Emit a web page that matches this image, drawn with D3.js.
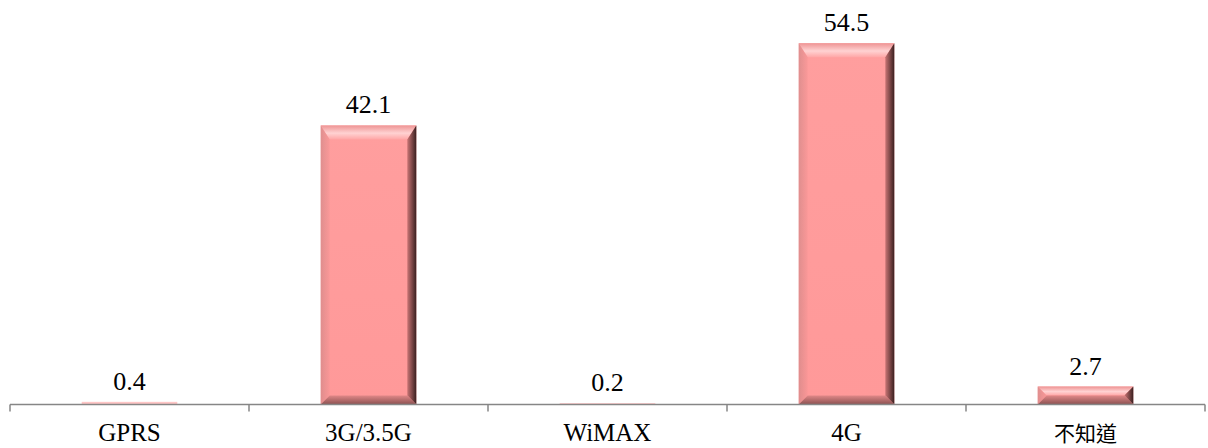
<!DOCTYPE html>
<html><head><meta charset="utf-8">
<script src="https://cdn.jsdelivr.net/npm/d3@7"></script>
<style>body{margin:0;background:#fff}svg{display:block}</style>
</head><body>
<svg id="c" width="1208" height="448"></svg>
<script>
const categories = ["GPRS", "3G/3.5G", "WiMAX", "4G", "不知道"];
const values = [0.4, 42.1, 0.2, 54.5, 2.7];
const labels = ["0.4", "42.1", "0.2", "54.5", "2.7"];

const svg = d3.select("#c");
const left = 10, right = 1205, baseY = 404.5, topY = 43.3;
const x = d3.scaleBand().domain(categories).range([left, right]).paddingInner(0.6).paddingOuter(0.3);
const xo = d3.scaleBand().domain(categories).range([left, right]);
const y = d3.scaleLinear().domain([0, 54.5]).range([baseY, topY]);

const defs = svg.append("defs");
const g1 = defs.append("linearGradient").attr("id","face").attr("x1",0).attr("x2",0).attr("y1",0).attr("y2",1);
g1.append("stop").attr("offset","0").attr("stop-color","#ff9e9e");
g1.append("stop").attr("offset","1").attr("stop-color","#ff9999");
const gt = defs.append("linearGradient").attr("id","topb").attr("x1",0).attr("x2",0).attr("y1",0).attr("y2",1);
gt.append("stop").attr("offset","0").attr("stop-color","#ee9494");
gt.append("stop").attr("offset","0.55").attr("stop-color","#ffd2d2");
gt.append("stop").attr("offset","1").attr("stop-color","#ffa6a6");
const gr = defs.append("linearGradient").attr("id","rightb").attr("x1",0).attr("x2",1).attr("y1",0).attr("y2",0);
gr.append("stop").attr("offset","0").attr("stop-color","#c87474");
gr.append("stop").attr("offset","1").attr("stop-color","#3a2020");
const gb = defs.append("linearGradient").attr("id","botb").attr("x1",0).attr("x2",0).attr("y1",0).attr("y2",1);
gb.append("stop").attr("offset","0").attr("stop-color","#e08888");
gb.append("stop").attr("offset","1").attr("stop-color","#8a5050");
const gl = defs.append("linearGradient").attr("id","leftb").attr("x1",0).attr("x2",1).attr("y1",0).attr("y2",0);
gl.append("stop").attr("offset","0").attr("stop-color","#c08080");
gl.append("stop").attr("offset","1").attr("stop-color","#f59595");

const bars = svg.append("g").selectAll("g").data(categories).enter().append("g");
bars.each(function(c, i){
  const g = d3.select(this);
  const x0 = x(c), w = x.bandwidth(), x1 = x0 + w;
  const y0 = y(values[i]), y1 = baseY;
  const h = y1 - y0;
  if (h <= 0.5) return;
  if (h < 4) {
    g.append("rect").attr("x", x0).attr("y", y0).attr("width", w).attr("height", h).attr("fill", "#ffc6c6");
    return;
  }
  const bt = Math.min(14, h / 2), bs = Math.min(9, h / 2), bb = Math.min(9, h / 2);
  g.append("rect").attr("x", x0).attr("y", y0).attr("width", w).attr("height", h).attr("fill", "url(#face)");
  g.append("polygon").attr("points", [[x0,y0],[x1,y0],[x1-bs,y0+bt],[x0+bs,y0+bt]].join(" ")).attr("fill","url(#topb)");
  g.append("polygon").attr("points", [[x0,y0],[x0+bs,y0+bt],[x0+bs,y1-bb],[x0,y1]].join(" ")).attr("fill","url(#leftb)").attr("opacity",0.5);
  g.append("polygon").attr("points", [[x1,y0],[x1,y1],[x1-bs,y1-bb],[x1-bs,y0+bt]].join(" ")).attr("fill","url(#rightb)");
  g.append("polygon").attr("points", [[x0,y1],[x1,y1],[x1-bs,y1-bb],[x0+bs,y1-bb]].join(" ")).attr("fill","url(#botb)");
});

svg.append("g").selectAll("text").data(categories).enter().append("text")
  .attr("x", c => x(c) + x.bandwidth()/2)
  .attr("y", (c,i) => y(values[i]) - 12)
  .attr("text-anchor","middle")
  .attr("font-family","'Liberation Serif','Times New Roman',serif")
  .attr("font-size", 26).attr("fill","#000")
  .text((c,i) => labels[i]);

const ax = svg.append("g");
ax.append("line").attr("x1", left).attr("x2", right).attr("y1", baseY).attr("y2", baseY).attr("stroke","#868686").attr("stroke-width",1.5);
const tickXs = categories.map(c => xo(c)).concat([right]);
ax.selectAll("line.t").data(tickXs).enter().append("line").attr("class","t")
  .attr("x1", d=>d).attr("x2", d=>d).attr("y1", baseY).attr("y2", baseY+7).attr("stroke","#868686").attr("stroke-width",1.5);
ax.selectAll("text").data(categories).enter().append("text")
  .attr("x", c => xo(c) + xo.bandwidth()/2)
  .attr("y", 441)
  .attr("text-anchor","middle")
  .attr("font-family", c => /[\u4e00-\u9fff]/.test(c) ? "'Noto Sans CJK TC',serif" : "'Liberation Serif','Times New Roman',serif")
  .attr("font-size", c => /[\u4e00-\u9fff]/.test(c) ? 21 : 25).attr("fill","#000")
  .text(c => c);
</script>
</body></html>
